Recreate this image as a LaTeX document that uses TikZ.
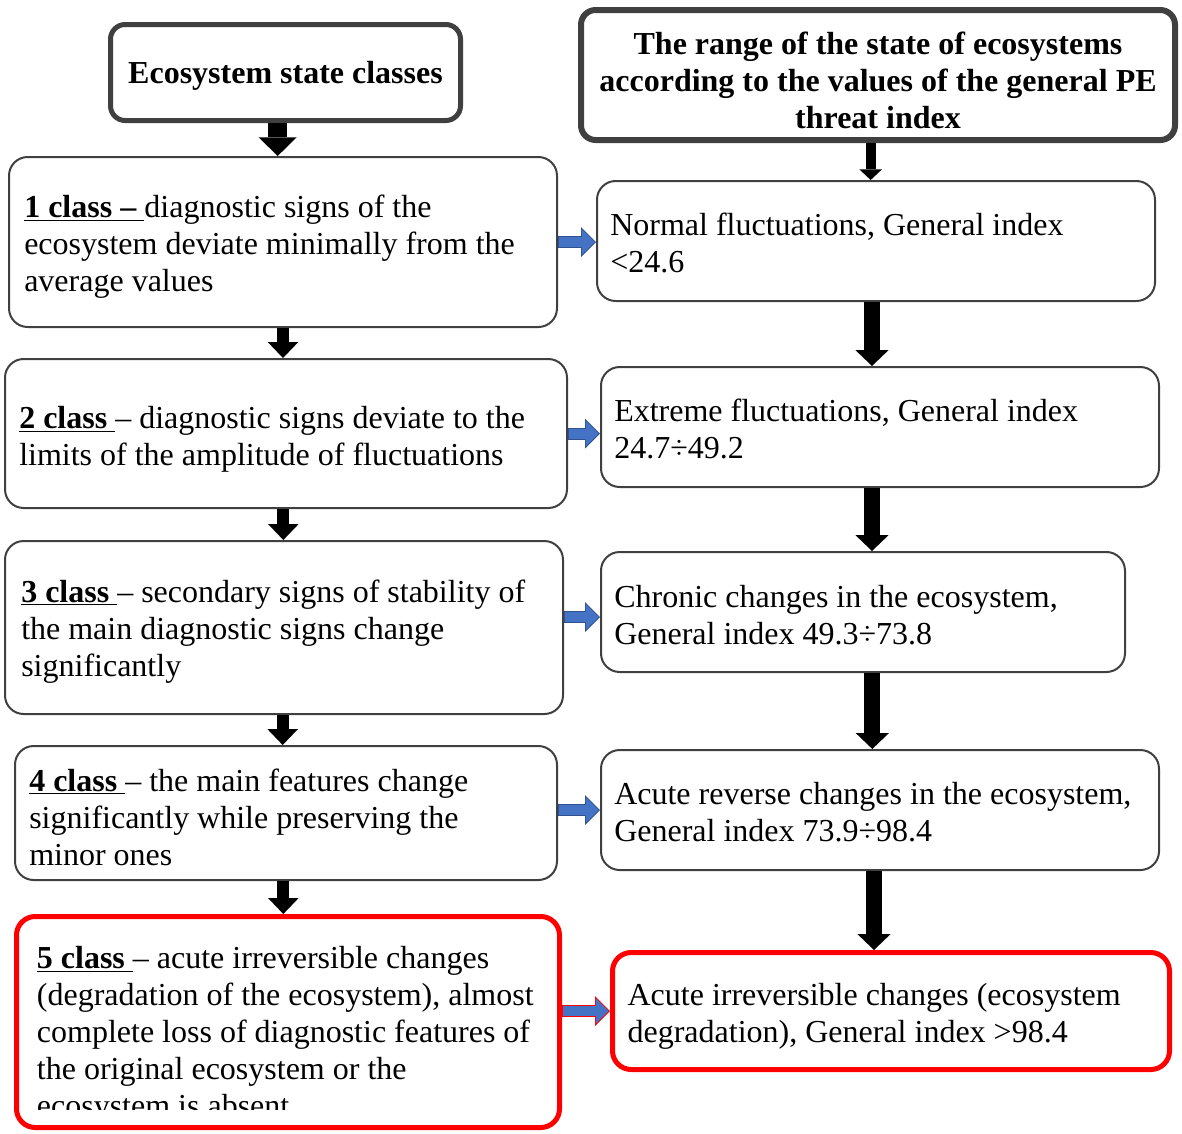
\documentclass[tikz,border=0pt]{standalone}
\usepackage{fontspec}
\setmainfont{Liberation Serif}
\usetikzlibrary{arrows.meta}
\definecolor{bgray}{HTML}{404040}
\definecolor{bblue}{HTML}{4472C4}
\definecolor{bbluedark}{HTML}{2F528F}
\definecolor{bred}{HTML}{FF0000}
\newcommand\bodyfont{\fontsize{24}{27.7}\selectfont}
\newcommand\cls[1]{\underline{\textbf{#1}}}
\begin{document}
\begin{tikzpicture}[x=0.75pt,y=-0.75pt,
  box/.style={draw=bgray, line width=1.5pt, rounded corners=14pt, fill=white, inner sep=0pt},
  hbox/.style={box, rounded corners=11pt},
  rbox/.style={box, draw=bred, line width=3.75pt},
  txt/.style={inner sep=0pt, align=left, font=\bodyfont, anchor=west},
  htxt/.style={inner sep=0pt, align=center, font=\bodyfont\bfseries},
  hdarrow/.style={draw=black, line width=14pt, -{Triangle[width=28.5pt,length=14pt,line width=0pt]}},
  ldarrow/.style={draw=black, line width=9pt, -{Triangle[width=23pt,length=12pt,line width=0pt]}},
  rharrow/.style={draw=black, line width=7.5pt, -{Triangle[width=17pt,length=8pt,line width=0pt]}},
  rdarrow/.style={draw=black, line width=12pt, -{Triangle[width=25pt,length=12pt,line width=0pt]}},
  bluo/.style={draw=bbluedark, line width=9pt, -{Triangle[width=22.5pt,length=11.25pt,line width=0pt]}},
  blui/.style={draw=bblue, line width=7.5pt, shorten >=1.06pt, shorten <=0.75pt, -{Triangle[width=19pt,length=9.45pt,line width=0pt]}},
]
\useasboundingbox (0,0) rectangle (1182,1133);

% headers
\node[hbox, line width=3.75pt, minimum width=262.5pt, minimum height=72pt] (LH) at (285.5,72.5) {};
\node[htxt] (LHt) at ([yshift=-2.6pt]LH.center) {Ecosystem state classes};
\node[hbox, line width=4.5pt, minimum width=445.5pt, minimum height=97.5pt] (RH) at (878,75) {};
\node[htxt] (RHt) at ([yshift=-4pt]RH.center) {The range of the state of ecosystems\\according to the values of the general PE\\threat index};

% left boxes
\node[box, minimum width=411pt, minimum height=127.5pt] (L1) at (283,242) {};
\node[txt] (L1t) at ([xshift=12pt,yshift=-3.75pt]L1.west) {\cls{1 class – }diagnostic signs of the\\ecosystem deviate minimally from the\\average values};
\node[box, minimum width=421.5pt, minimum height=111.75pt] (L2) at (286,433.5) {};
\node[txt] (L2t) at ([xshift=11.25pt,yshift=-4.5pt]L2.west) {\cls{2 class }– diagnostic signs deviate to the\\limits of the amplitude of fluctuations};
\node[box, minimum width=418.5pt, minimum height=129.75pt] (L3) at (284,627.5) {};
\node[txt] (L3t) at ([xshift=12.75pt,yshift=-3pt]L3.west) {\cls{3 class }– secondary signs of stability of\\the main diagnostic signs change\\significantly};
\node[box, minimum width=406.5pt, minimum height=100.5pt] (L4) at (286,813) {};
\node[txt] (L4t) at ([xshift=11.25pt,yshift=-3.25pt]L4.west) {\cls{4 class }– the main features change\\significantly while preserving the\\minor ones};
\node[rbox, minimum width=407.25pt, minimum height=158.25pt] (L5) at (288,1022) {};
\begin{scope}
\clip (0,900) rectangle (1182,1109);
\node[txt] (L5t) at ([xshift=17pt,yshift=-9.75pt]L5.west) {\cls{5 class }– acute irreversible changes\\(degradation of the ecosystem), almost\\complete loss of diagnostic features of\\the original ecosystem or the\\ecosystem is absent};
\end{scope}

% right boxes
\node[box, minimum width=418.5pt, minimum height=90pt] (R1) at (876,241) {};
\node[txt] (R1t) at ([xshift=10.5pt,yshift=-1.2pt]R1.west) {Normal fluctuations, General index\\<24.6};
\node[box, minimum width=418.5pt, minimum height=90pt] (R2) at (880,427) {};
\node[txt] (R2t) at ([xshift=10.5pt,yshift=-1.2pt]R2.west) {Extreme fluctuations, General index\\24.7÷49.2};
\node[box, minimum width=393pt, minimum height=90pt] (R3) at (863,612) {};
\node[txt] (R3t) at ([xshift=10.5pt,yshift=-2.5pt]R3.west) {Chronic changes in the ecosystem,\\General index 49.3÷73.8};
\node[box, minimum width=418.5pt, minimum height=90pt] (R4) at (880,810) {};
\node[txt] (R4t) at ([xshift=10.5pt,yshift=-1.5pt]R4.west) {Acute reverse changes in the ecosystem,\\General index 73.9÷98.4};
\node[rbox, minimum width=417.75pt, minimum height=87.75pt] (R5) at (891,1011) {};
\node[txt] (R5t) at ([xshift=13pt,yshift=-3.75pt]R5.west) {Acute irreversible changes (ecosystem\\degradation), General index >98.4};

% black arrows, left column
\draw[hdarrow] ([xshift=-4pt]L1.north |- LH.south) -- ([xshift=-4pt]L1.north);
\draw[ldarrow] (L1.south) -- (L1.south |- L2.north);
\draw[ldarrow] ([xshift=-2pt]L2.south) -- ([xshift=-2pt]L2.south |- L3.north);
\draw[ldarrow] ([xshift=-1pt]L3.south) -- ([xshift=-1pt]L3.south |- L4.north);
\draw[ldarrow] ([xshift=-2pt]L4.south) -- ([xshift=-2pt]L4.south |- L5.north);

% black arrows, right column
\draw[rharrow] ([xshift=-4pt]R1.north |- RH.south) -- ([xshift=-4pt]R1.north);
\draw[rdarrow] ([xshift=-3pt]R1.south) -- ([xshift=-3pt]R1.south |- R2.north);
\draw[rdarrow] ([xshift=-6pt]R2.south) -- ([xshift=-6pt]R2.south |- R3.north);
\draw[rdarrow] ([xshift=7pt]R3.south) -- ([xshift=7pt]R3.south |- R4.north);
\draw[rdarrow] ([xshift=-4.5pt]R4.south) -- ([xshift=-4.5pt]R4.south |- R5.north);

% blue arrows
\draw[bluo] (L1.east) -- (L1.east -| R1.west);
\draw[blui] (L1.east) -- (L1.east -| R1.west);
\draw[bluo] (L2.east) -- (L2.east -| R2.west);
\draw[blui] (L2.east) -- (L2.east -| R2.west);
\draw[bluo] ([yshift=-3.75pt]L3.east |- R3.west) -- ([yshift=-3.75pt]R3.west);
\draw[blui] ([yshift=-3.75pt]L3.east |- R3.west) -- ([yshift=-3.75pt]R3.west);
\draw[bluo] (L4.east |- R4.west) -- (R4.west);
\draw[blui] (L4.east |- R4.west) -- (R4.west);
\draw[bluo, draw=bred] (L5.east |- R5.west) -- (R5.west);
\draw[blui] (L5.east |- R5.west) -- (R5.west);
\end{tikzpicture}
\end{document}
